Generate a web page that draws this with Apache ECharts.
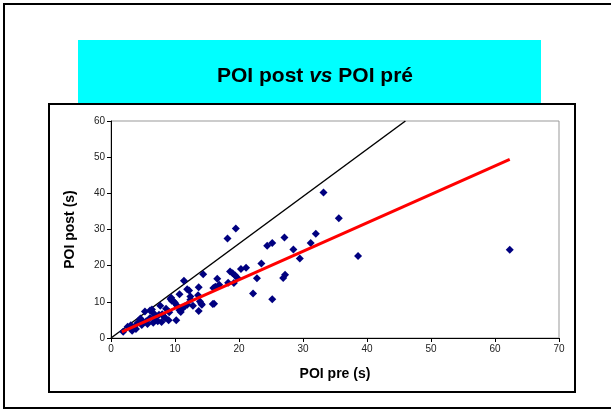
<!DOCTYPE html>
<html>
<head>
<meta charset="utf-8">
<script src="https://cdn.jsdelivr.net/npm/echarts@6/dist/echarts.min.js"></script>
<style>
  html, body { margin: 0; padding: 0; background: #fff; }
  #main { width: 611px; height: 410px; }
</style>
</head>
<body>
<div id="main"></div>
<script>
// POI pre (x) and POI post (y)
const poiPre = [
  33.2, 35.6, 19.5, 18.2, 27.1, 32.0, 31.2, 24.4, 25.2, 28.5,
  29.5, 38.6, 62.3, 23.5, 20.3, 21.1, 18.6, 19.0, 19.4, 19.7,
  19.2, 18.3, 14.4, 16.6, 16.9, 16.0, 16.3, 22.8, 27.2, 26.9,
  22.2, 25.2, 15.9, 16.1, 11.4, 10.7, 11.9, 12.2, 13.7, 13.6,
  12.4, 13.9, 14.1, 13.7, 9.3, 9.5, 10.0, 10.3, 10.7, 11.1,
  11.5, 11.9, 10.2, 7.7, 8.6, 9.1, 8.5, 9.0, 5.3, 6.1,
  6.6, 6.9, 6.1, 7.3, 6.6, 5.7, 4.6, 5.1, 3.6, 3.1,
  3.3, 3.9, 1.9, 7.5, 8.2, 4.1, 4.6, 9.4, 9.8, 12.4,
  14.2, 7.0, 5.5, 6.4, 8.0, 12.8, 10.9, 4.8, 2.6, 7.9
];
const poiPost = [
  40.2, 33.1, 30.3, 27.5, 27.8, 28.8, 26.3, 25.5, 26.3, 24.5,
  22.0, 22.7, 24.4, 20.6, 19.1, 19.4, 18.4, 17.9, 17.3, 16.7,
  15.2, 15.3, 17.6, 16.4, 14.7, 13.8, 14.2, 16.5, 17.5, 16.6,
  12.3, 10.7, 9.4, 9.5, 15.8, 12.1, 13.5, 13.1, 14.0, 11.8,
  11.5, 10.1, 9.5, 7.5, 10.8, 10.3, 9.7, 9.0, 7.7, 8.1,
  8.7, 9.2, 4.9, 8.9, 8.1, 7.1, 5.5, 4.9, 7.3, 7.6,
  6.9, 6.2, 5.5, 4.6, 4.2, 3.9, 5.1, 4.3, 2.9, 3.5,
  2.0, 2.5, 1.7, 6.4, 6.0, 4.1, 5.4, 11.1, 10.1, 10.6,
  9.2, 5.0, 4.6, 7.9, 6.6, 8.9, 7.2, 3.6, 3.1, 4.4
];
// black reference line and red fit line end points
const refLine = [[0, 0], [46, 60]];
const fitLine = [[1.7, 1.7], [62.3, 49.4]];

const xTicks = { min: 0, max: 70, interval: 10 };
const yTicks = { min: 0, max: 60, interval: 10 };

const points = poiPre.map((x, i) => [x, poiPost[i]]);

const chart = echarts.init(document.getElementById("main"));

const font = "'Liberation Sans', Arial, sans-serif";
const titleStyle = {
  fontFamily: font,
  fontWeight: "bold",
  fontSize: 21,
  color: "#000",
  textShadowColor: "rgba(0,0,0,0.45)",
  textShadowOffsetX: 1,
  textShadowOffsetY: 1,
};

chart.setOption({
  animation: false,
  backgroundColor: "#fff",
  title: {
    text: "POI post {i|vs} POI pré",
    left: 310,
    textAlign: "center",
    top: 61,
    textStyle: Object.assign({}, titleStyle, {
      rich: {
        i: Object.assign({}, titleStyle, { fontStyle: "italic" }),
      },
    }),
  },
  graphic: [
    {
      type: "rect",
      z: -10,
      shape: { x: 4, y: 4, width: 620, height: 404 },
      style: { fill: "#fff", stroke: "#000", lineWidth: 2 },
    },
    {
      type: "rect",
      z: -9,
      shape: { x: 78, y: 40, width: 463, height: 64 },
      style: { fill: "#00ffff" },
    },
    {
      type: "rect",
      z: -8,
      shape: { x: 49, y: 104, width: 526, height: 288 },
      style: { fill: "#fff", stroke: "#000", lineWidth: 2 },
    },
  ],
  grid: {
    left: 111,
    right: 52,
    top: 121,
    bottom: 72,
    show: true,
    borderColor: "#999",
    borderWidth: 1,
  },
  xAxis: {
    type: "value",
    min: xTicks.min,
    max: xTicks.max,
    interval: xTicks.interval,
    name: "POI pre (s)",
    nameLocation: "middle",
    nameGap: 29,
    nameTextStyle: { fontFamily: font, fontWeight: "bold", fontSize: 14, color: "#000" },
    axisLine: { lineStyle: { color: "#000", width: 1 } },
    axisTick: { length: 4, lineStyle: { color: "#000" } },
    axisLabel: { fontFamily: font, fontSize: 10, color: "#222", margin: 6 },
    splitLine: { show: false },
  },
  yAxis: {
    type: "value",
    min: yTicks.min,
    max: yTicks.max,
    interval: yTicks.interval,
    name: "POI post (s)",
    nameLocation: "middle",
    nameGap: 34,
    nameTextStyle: { fontFamily: font, fontWeight: "bold", fontSize: 14, color: "#000" },
    axisLine: { show: true, lineStyle: { color: "#000", width: 1 } },
    axisTick: { show: true, length: 4, lineStyle: { color: "#000" } },
    axisLabel: { fontFamily: font, fontSize: 10, color: "#222", margin: 6 },
    splitLine: { show: false },
  },
  series: [
    {
      type: "line",
      data: refLine,
      symbol: "none",
      lineStyle: { color: "#000", width: 1.5 },
      z: 1,
    },
    {
      type: "scatter",
      data: points,
      symbol: "diamond",
      symbolSize: 8,
      itemStyle: { color: "#000080", opacity: 1 },
      z: 2,
    },
    {
      type: "line",
      data: fitLine,
      symbol: "none",
      lineStyle: { color: "#ff0000", width: 3 },
      z: 3,
    },
  ],
});
</script>
</body>
</html>
